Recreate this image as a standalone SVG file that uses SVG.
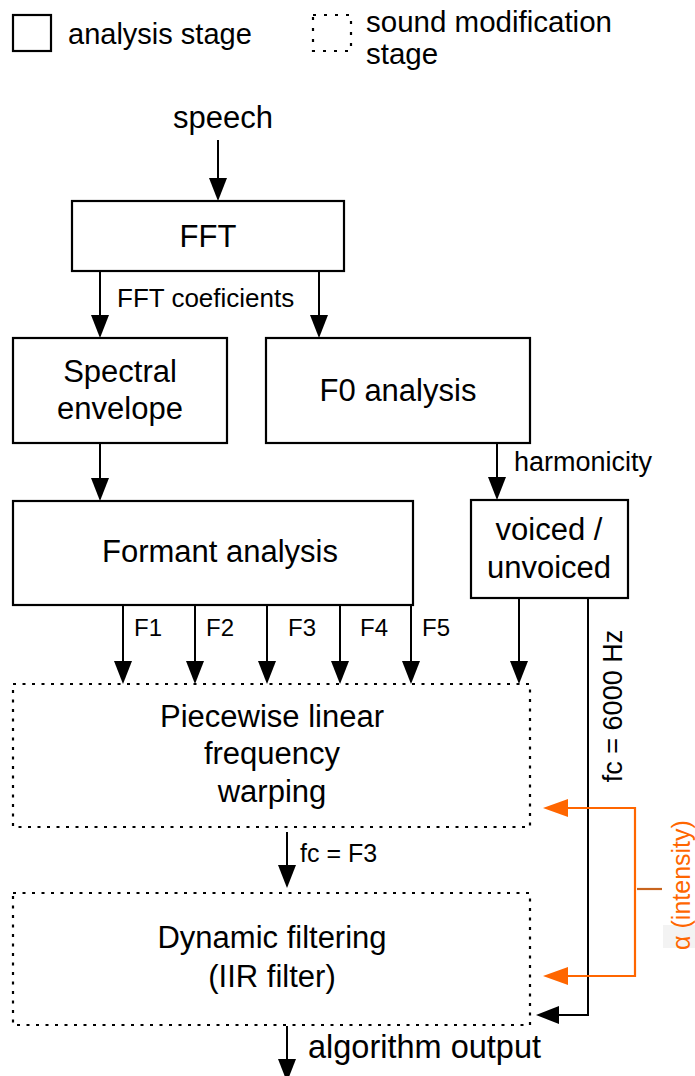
<svg xmlns="http://www.w3.org/2000/svg" width="695" height="1076" viewBox="0 0 695 1076">
<style>
text { font-family: "Liberation Sans", Arial, Helvetica, sans-serif; fill: #000; }
.node { font-size: 31px; text-anchor: middle; }
.lbl { font-size: 25px; }
.box { fill: #fff; stroke: #000; stroke-width: 2.2; }
.dbox { fill: none; stroke: #000; stroke-width: 2.2; stroke-dasharray: 3 6.5; }
.conn { stroke: #000; stroke-width: 2; fill: none; }
.oconn { stroke: #ff6600; stroke-width: 2.2; fill: none; }
</style>
<defs>
<marker id="arr" viewBox="0 0 23 18" refX="19" refY="9" markerWidth="23" markerHeight="18" markerUnits="userSpaceOnUse" orient="auto">
<path d="M0,0 L23,9 L0,18 z" fill="#000"/>
</marker>
<marker id="oarr" viewBox="0 0 25 18" refX="21" refY="9" markerWidth="25" markerHeight="18" markerUnits="userSpaceOnUse" orient="auto">
<path d="M0,0 L25,9 L0,18 z" fill="#ff6600"/>
</marker>
</defs>
<rect width="695" height="1076" fill="#fff"/>

<g id="legend">
<rect class="box" x="13" y="15" width="38" height="36"/>
<text x="68" y="44" style="font-size:29px">analysis stage</text>
<rect class="dbox" x="313" y="15" width="38" height="36" style="stroke-dasharray:3 8"/>
<text x="366" y="32" style="font-size:29.5px">sound modification</text>
<text x="366" y="64" style="font-size:29.5px">stage</text>
</g>

<g id="speech">
<text x="223" y="128" style="font-size:31px;text-anchor:middle">speech</text>
</g>

<g id="fft">
<rect class="box" x="72" y="201" width="272" height="70"/>
<text class="node" x="208" y="247">FFT</text>
</g>

<g id="spectral">
<rect class="box" x="13" y="338" width="214" height="105"/>
<text class="node" x="120" y="382">Spectral</text>
<text class="node" x="120" y="419">envelope</text>
</g>

<g id="f0">
<rect class="box" x="266" y="338" width="264" height="105"/>
<text class="node" x="398" y="401">F0 analysis</text>
</g>

<g id="formant">
<rect class="box" x="13" y="501" width="400" height="104"/>
<text class="node" x="220" y="562">Formant analysis</text>
</g>

<g id="voiced">
<rect class="box" x="471" y="500" width="157" height="98"/>
<text class="node" x="549" y="540">voiced /</text>
<text class="node" x="549" y="578">unvoiced</text>
</g>

<g id="warping">
<rect class="dbox" x="13" y="684" width="517" height="143"/>
<text class="node" x="272" y="727">Piecewise linear</text>
<text class="node" x="272" y="764">frequency</text>
<text class="node" x="272" y="802">warping</text>
</g>

<g id="filtering">
<rect class="dbox" x="13" y="893" width="517" height="132"/>
<text class="node" x="272" y="948">Dynamic filtering</text>
<text class="node" x="272" y="987">(IIR filter)</text>
</g>

<g id="connectors">
<line class="conn" x1="218" y1="140" x2="218" y2="197" marker-end="url(#arr)"/>
<line class="conn" x1="100" y1="271" x2="100" y2="334" marker-end="url(#arr)"/>
<line class="conn" x1="319" y1="271" x2="319" y2="334" marker-end="url(#arr)"/>
<line class="conn" x1="100" y1="443" x2="100" y2="497" marker-end="url(#arr)"/>
<line class="conn" x1="497" y1="443" x2="497" y2="496" marker-end="url(#arr)"/>
<line class="conn" x1="123" y1="605" x2="123" y2="680" marker-end="url(#arr)"/>
<line class="conn" x1="195" y1="605" x2="195" y2="680" marker-end="url(#arr)"/>
<line class="conn" x1="267" y1="605" x2="267" y2="680" marker-end="url(#arr)"/>
<line class="conn" x1="340" y1="605" x2="340" y2="680" marker-end="url(#arr)"/>
<line class="conn" x1="411" y1="605" x2="411" y2="680" marker-end="url(#arr)"/>
<line class="conn" x1="519" y1="598" x2="519" y2="680" marker-end="url(#arr)"/>
<polyline class="conn" points="588,598 588,1015 540,1015" marker-end="url(#arr)"/>
<line class="conn" x1="287" y1="832" x2="287" y2="884" marker-end="url(#arr)"/>
<line class="conn" x1="287" y1="1026" x2="287" y2="1078" marker-end="url(#arr)"/>

<polyline class="oconn" points="546,808 635,808 635,976 546,976"/>
<line class="oconn" x1="635" y1="808" x2="547" y2="808" marker-end="url(#oarr)"/>
<line class="oconn" x1="635" y1="976" x2="547" y2="976" marker-end="url(#oarr)"/>
<line x1="637" y1="889" x2="662" y2="889" stroke="#c8641e" stroke-width="2.2"/>

<text class="lbl" x="117" y="307" style="font-size:26px">FFT coeficients</text>
<text class="lbl" x="514" y="471" style="font-size:27px">harmonicity</text>
<text class="lbl" x="134" y="636" style="font-size:24px">F1</text>
<text class="lbl" x="206" y="636" style="font-size:24px">F2</text>
<text class="lbl" x="288" y="636" style="font-size:24px">F3</text>
<text class="lbl" x="360" y="636" style="font-size:24px">F4</text>
<text class="lbl" x="422" y="636" style="font-size:24px">F5</text>
<text class="lbl" x="300" y="862">fc = F3</text>
<text x="308" y="1058" style="font-size:32.5px">algorithm output</text>
<text transform="translate(622,706) rotate(-90)" style="font-size:27px;text-anchor:middle">fc = 6000 Hz</text>
<rect x="663" y="925" width="32" height="23" fill="#f3f3f3"/>
<text transform="translate(690,885) rotate(-90)" style="font-size:25px;text-anchor:middle;fill:#ff6600">α (intensity)</text>
</g>
</svg>
